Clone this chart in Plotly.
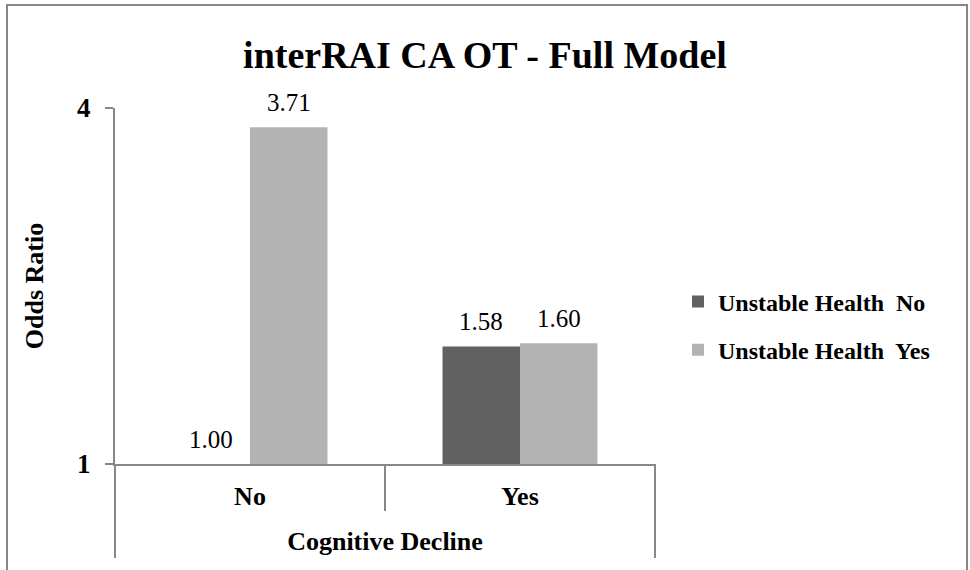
import math
import plotly.graph_objects as go

categories = ["No", "Yes"]
series_names = ["Unstable Health  No", "Unstable Health  Yes"]
values_no = [1.00, 1.58]
values_yes = [3.71, 1.60]
colors = ["#616161", "#b3b3b3"]
y_tick_vals = [1, 4]
y_tick_text = ["1", "4"]

FONT = "Liberation Serif, Times New Roman, serif"
LINE = "#878787"

W, H = 970, 570
L, R, T, B = 115, 315, 108, 106
pw, ph = W - L - R, H - T - B
BAR_W = 77.5  # pixel width of each bar (from bargap)


def px(x):
    return (x - L) / pw


def py(y):
    return (H - B - y) / ph


fig = go.Figure()
all_series = [values_no, values_yes]
for i, (name, vals, col) in enumerate(zip(series_names, all_series, colors)):
    fig.add_trace(go.Bar(
        x=categories, y=vals, name="<b>%s</b>" % name, marker_color=col,
        marker_line_width=0, legendgroup="g%d" % i,
    ))

annotations = []
for i, vals in enumerate(all_series):
    offset = (i - 0.5) * BAR_W
    for cat, v in zip(categories, vals):
        annotations.append(dict(
            x=cat, y=math.log10(v), xref="x", yref="y", text="%.2f" % v,
            showarrow=False, xshift=offset, yshift=25, yanchor="middle",
            font=dict(family=FONT, size=25, color="#000"),
        ))

shapes = [
    dict(type="rect", xref="paper", yref="paper", x0=px(7), x1=px(967), y0=py(585), y1=py(5),
         line=dict(color=LINE, width=2), layer="below"),
    dict(type="line", xref="paper", yref="paper", x0=0, x1=0, y0=py(558), y1=0,
         line=dict(color=LINE, width=2)),
    dict(type="line", xref="paper", yref="paper", x0=0.5, x1=0.5, y0=py(511), y1=0,
         line=dict(color=LINE, width=2)),
    dict(type="line", xref="paper", yref="paper", x0=1, x1=1, y0=py(558), y1=0,
         line=dict(color=LINE, width=2)),
]

fig.update_layout(
    width=W, height=H,
    margin=dict(l=L, r=R, t=T, b=B),
    paper_bgcolor="white", plot_bgcolor="white",
    barmode="group", bargap=0.426, bargroupgap=0,
    title=dict(text="<b>interRAI CA OT - Full Model</b>", xref="container", x=0.5,
               yref="container", y=1 - 55 / H, xanchor="center", yanchor="middle",
               font=dict(family=FONT, size=38, color="#000")),
    font=dict(family=FONT, color="#000"),
    legend=dict(x=px(678), y=py(326), xanchor="left", yanchor="middle",
                font=dict(family=FONT, size=24, color="#000"),
                traceorder="grouped", itemwidth=30, tracegroupgap=14,
                bgcolor="rgba(0,0,0,0)"),
    annotations=annotations,
    shapes=shapes,
    xaxis=dict(showline=True, linecolor=LINE, linewidth=2, ticks="", showgrid=False,
               tickfont=dict(family=FONT, size=26, color="#000"),
               tickprefix="<b>", ticksuffix="</b>", ticklabelstandoff=8,
               title=dict(text="<b>Cognitive Decline</b>", standoff=22,
                          font=dict(family=FONT, size=26, color="#000"))),
    yaxis=dict(type="log", range=[0, math.log10(4)], showline=True, linecolor=LINE, linewidth=2,
               showgrid=True, gridcolor=LINE, gridwidth=2, zeroline=False,
               ticks="outside", ticklen=8, tickcolor=LINE, tickwidth=2,
               tickvals=y_tick_vals, ticktext=["<b>%s</b>" % t for t in y_tick_text],
               tickfont=dict(family=FONT, size=27, color="#000"), ticklabelstandoff=9,
               title=dict(text="<b>Odds Ratio</b>", standoff=26,
                          font=dict(family=FONT, size=26, color="#000"))),
)

fig.write_html("out.html", config={"displayModeBar": False},
               post_script="document.body.style.margin='0';")
